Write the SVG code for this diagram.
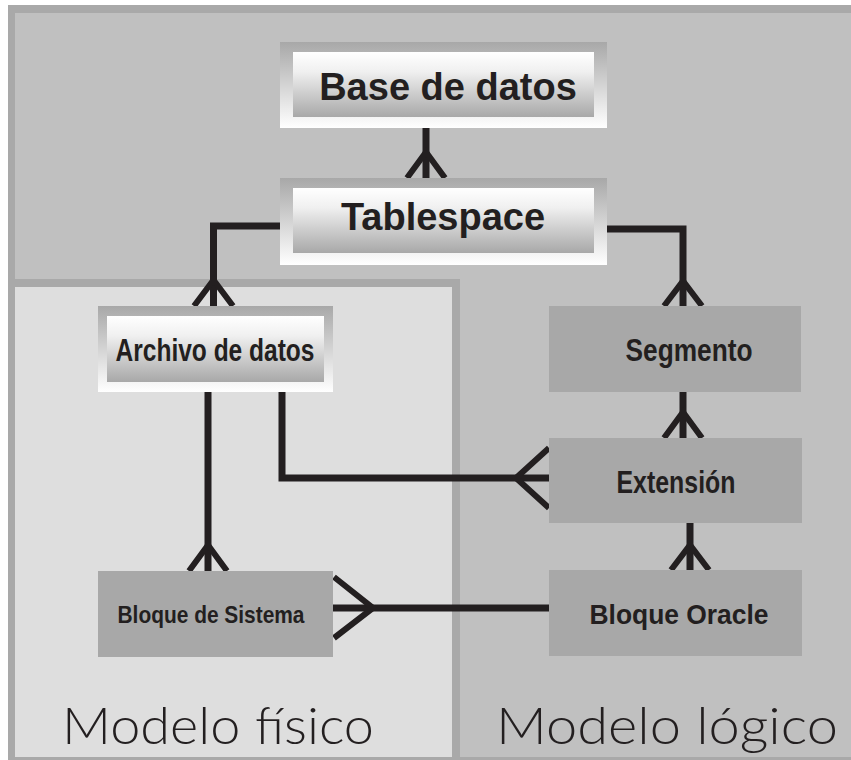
<svg xmlns="http://www.w3.org/2000/svg" width="851" height="760" viewBox="0 0 851 760">
<defs>
<linearGradient id="gFrame" x1="0" y1="0" x2="0" y2="1">
<stop offset="0" stop-color="#a8a8a8"/>
<stop offset="1" stop-color="#ffffff"/>
</linearGradient>
<linearGradient id="gInner" x1="0" y1="0" x2="0" y2="1">
<stop offset="0" stop-color="#ffffff"/>
<stop offset="0.3" stop-color="#f0f0f0"/>
<stop offset="1" stop-color="#a8a8a8"/>
</linearGradient>
<style>
.frame{fill:url(#gFrame)}
.inner{fill:url(#gInner)}
.solid{fill:#a8a8a8}
.lbl{font-family:"Liberation Sans",Arial,sans-serif;font-weight:bold;fill:#231f20;text-anchor:middle}
.big{font-size:38px}
.mid{font-size:31px}
.title{font-family:Lato,"Open Sans","Liberation Sans",sans-serif;font-weight:300;font-size:52px;fill:#231f20}
.ln{stroke:#231f20;stroke-width:7;fill:none;stroke-linejoin:miter;stroke-linecap:butt}
.ft{stroke:#231f20;stroke-width:6;fill:none;stroke-linecap:butt}
</style>
</defs>
<rect x="0" y="0" width="851" height="760" fill="#ffffff"/>
<g id="panels">
<rect x="8" y="5" width="843" height="755" fill="#a9a9a9"/>
<rect x="15" y="13" width="836" height="744" fill="#c0c0c0"/>
<rect x="8" y="279" width="452" height="481" fill="#a9a9a9"/>
<rect x="15" y="287" width="437" height="470" fill="#dedede"/>
<text class="title" x="62" y="744" textLength="312" lengthAdjust="spacingAndGlyphs">Modelo físico</text>
<text class="title" x="496" y="744" textLength="342" lengthAdjust="spacingAndGlyphs">Modelo lógico</text>
</g>
<g id="connectors">
<path class="ln" d="M426,128 V178"/>
<path class="ft" d="M407,178 L426,152 L445,178"/>
<path class="ln" d="M280,226 H213.5 V306"/>
<path class="ft" d="M194,306 L213.5,280 L233,306"/>
<path class="ln" d="M607,229 H683 V306"/>
<path class="ft" d="M664,306 L683,281 L702,306"/>
<path class="ln" d="M683,392 V438"/>
<path class="ft" d="M664,438 L683,412 L702,438"/>
<path class="ln" d="M282,392 V478 H549"/>
<path class="ft" d="M549,448 L516,478 L549,508"/>
<path class="ln" d="M208,392 V571"/>
<path class="ft" d="M189,571 L208,545 L227,571"/>
<path class="ln" d="M690,523 V570"/>
<path class="ft" d="M671,570 L690,545 L709,570"/>
<path class="ln" d="M549,608 H333"/>
<path class="ft" d="M334,577 L373,608 L334,638"/>
</g>
<g id="base-de-datos">
<rect class="frame" x="280" y="42" width="327" height="86"/>
<rect class="inner" x="293" y="52" width="301" height="65"/>
<text class="lbl big" x="448" y="100">Base de datos</text>
</g>
<g id="tablespace">
<rect class="frame" x="280" y="178" width="327" height="87"/>
<rect class="inner" x="293" y="188" width="301" height="65"/>
<text class="lbl big" x="443" y="230">Tablespace</text>
</g>
<g id="archivo-de-datos">
<rect class="frame" x="98" y="306" width="235" height="86"/>
<rect class="inner" x="107" y="316" width="217" height="66"/>
<text class="lbl mid" x="215" y="361" textLength="199" lengthAdjust="spacingAndGlyphs">Archivo de datos</text>
</g>
<g id="segmento">
<rect class="solid" x="549" y="306" width="252" height="86"/>
<text class="lbl mid" x="689" y="361" textLength="127" lengthAdjust="spacingAndGlyphs">Segmento</text>
</g>
<g id="extension">
<rect class="solid" x="549" y="438" width="253" height="85"/>
<text class="lbl mid" x="676" y="493" textLength="119" lengthAdjust="spacingAndGlyphs">Extensión</text>
</g>
<g id="bloque-de-sistema">
<rect class="solid" x="98" y="571" width="235" height="86"/>
<text class="lbl" font-size="24" x="211" y="623" textLength="187" lengthAdjust="spacingAndGlyphs">Bloque de Sistema</text>
</g>
<g id="bloque-oracle">
<rect class="solid" x="549" y="570" width="253" height="86"/>
<text class="lbl" font-size="28" x="679" y="624" textLength="179" lengthAdjust="spacingAndGlyphs">Bloque Oracle</text>
</g>
</svg>
